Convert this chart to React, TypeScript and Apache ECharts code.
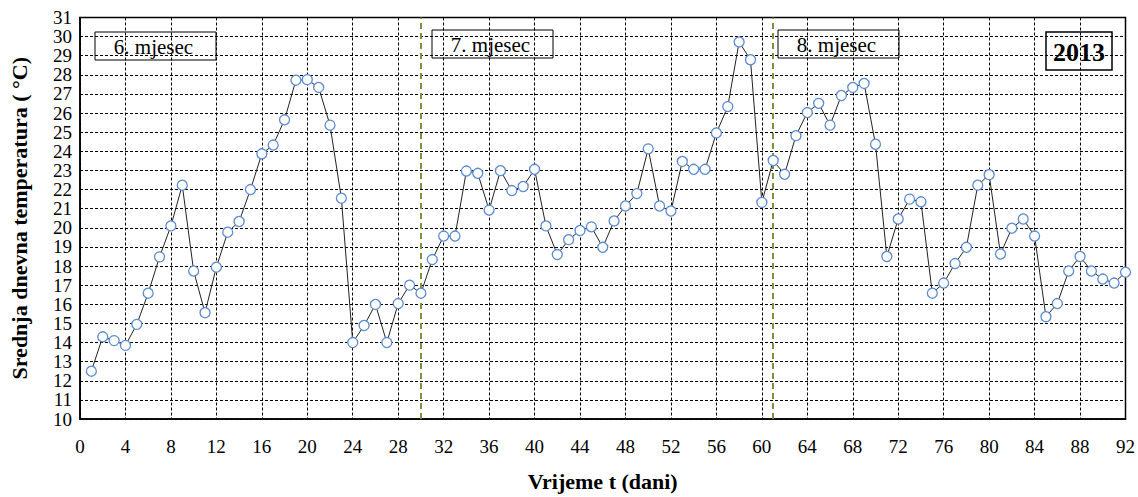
import React, { useEffect, useRef } from "react";
import * as echarts from "echarts";

const days: number[] = Array.from({ length: 92 }, (_, i) => i + 1);
const temps: number[] = [
  12.5, 14.3, 14.1, 13.85, 14.95, 16.58, 18.48, 20.1, 22.23, 17.74,
  15.56, 17.94, 19.77, 20.33, 22.0, 23.87, 24.33, 25.65, 27.72, 27.75,
  27.34, 25.37, 21.55, 14.0, 14.89, 15.99, 14.0, 16.04, 17.0, 16.58,
  18.34, 19.57, 19.57, 22.97, 22.85, 20.93, 22.99, 21.95, 22.16, 23.06,
  20.1, 18.6, 19.38, 19.86, 20.05, 18.98, 20.36, 21.14, 21.79, 24.13,
  21.14, 20.88, 23.47, 23.06, 23.06, 24.96, 26.34, 29.72, 28.79, 21.33,
  23.52, 22.8, 24.82, 26.03, 26.51, 25.37, 26.92, 27.34, 27.55, 24.37,
  18.5, 20.46, 21.5, 21.36, 16.58, 17.11, 18.13, 18.98, 22.23, 22.78,
  18.63, 19.98, 20.46, 19.57, 15.35, 16.04, 17.74, 18.5, 17.74, 17.32,
  17.11, 17.68,
];
const monthBoundaries: number[] = [30, 61];
const monthLabels: string[] = ["6. mjesec", "7. mjesec", "8. mjesec"];
const yearLabel = "2013";

const FONT = "Liberation Serif";

export default function App() {
  const ref = useRef<HTMLDivElement>(null);
  useEffect(() => {
    if (!ref.current) return;
    const chart = echarts.init(ref.current, null, { renderer: "svg" });
    const boxes = [
      { x: 95, y: 32, w: 121, h: 28, text: monthLabels[0] },
      { x: 432, y: 30, w: 121, h: 28, text: monthLabels[1] },
      { x: 778, y: 30, w: 121, h: 28, text: monthLabels[2] },
    ];
    const graphic: any[] = boxes.map((b) => ({
      type: "group",
      x: b.x,
      y: b.y,
      z: 100,
      children: [
        { type: "rect", shape: { x: 0, y: 0, width: b.w, height: b.h }, style: { fill: "#fff", stroke: "#000", lineWidth: 1 } },
        {
          type: "text",
          x: b.w / 2 - 2,
          y: b.h / 2 + 1,
          style: { text: b.text, fontFamily: FONT, fontSize: 21, fill: "#000", align: "center", verticalAlign: "middle" },
        },
      ],
    }));
    graphic.push({
      type: "group",
      x: 1046,
      y: 32,
      z: 100,
      children: [
        { type: "rect", shape: { x: 0, y: 0, width: 66, height: 38 }, style: { fill: "#fff", stroke: "#000", lineWidth: 1.5 } },
        {
          type: "text",
          x: 33,
          y: 20,
          style: { text: yearLabel, fontFamily: FONT, fontSize: 26, fontWeight: "bold", fill: "#000", align: "center", verticalAlign: "middle" },
        },
      ],
    });

    chart.setOption({
      animation: false,
      backgroundColor: "#fff",
      textStyle: { fontFamily: FONT },
      grid: { left: 79, right: 12, top: 17.5, bottom: 74.5, show: true, borderColor: "#000", borderWidth: 1.5, backgroundColor: "transparent" },
      xAxis: {
        type: "value",
        min: 0,
        max: 92,
        interval: 4,
        name: "Vrijeme t (dani)",
        nameLocation: "middle",
        nameGap: 51,
        nameTextStyle: { fontFamily: FONT, fontSize: 22, fontWeight: "bold", color: "#000" },
        axisLine: { show: true, lineStyle: { color: "#000", width: 1.5 } },
        axisTick: { show: false },
        axisLabel: { fontFamily: FONT, fontSize: 19, color: "#000", margin: 18 },
        splitLine: { show: true, lineStyle: { color: "#000", type: [3, 2], width: 1 } },
      },
      yAxis: {
        type: "value",
        min: 10,
        max: 31,
        interval: 1,
        name: "Srednja dnevna temperatura ( °C)",
        nameLocation: "middle",
        nameGap: 50,
        nameTextStyle: { fontFamily: FONT, fontSize: 22, fontWeight: "bold", color: "#000" },
        axisLine: { show: true, lineStyle: { color: "#000", width: 1.5 } },
        axisTick: { show: false },
        axisLabel: { fontFamily: FONT, fontSize: 19, color: "#000", margin: 8 },
        splitLine: { show: true, lineStyle: { color: "#000", type: [3, 2], width: 1 } },
      },
      series: [
        {
          type: "line",
          data: days.map((d, i) => [d, temps[i]]),
          symbol: "circle",
          symbolSize: 10,
          showAllSymbol: true,
          lineStyle: { color: "#222", width: 1 },
          itemStyle: { color: "#fff", borderColor: "#5B8BD0", borderWidth: 1.3 },
          z: 5,
          markLine: {
            silent: true,
            symbol: "none",
            label: { show: false },
            lineStyle: { color: "#77933C", type: [6, 4], width: 2 },
            data: monthBoundaries.map((m) => ({ xAxis: m })),
          },
        },
      ],
      graphic,
    });
    return () => chart.dispose();
  }, []);
  return <div ref={ref} style={{ width: 1138, height: 497, position: "absolute", left: 0, top: 0 }} />;
}
